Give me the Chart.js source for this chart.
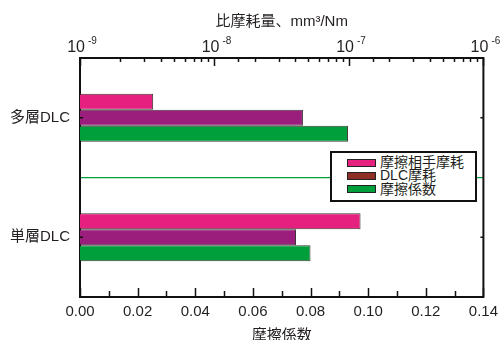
<!DOCTYPE html>
<html>
<head>
<meta charset="utf-8">
<script src="https://cdn.jsdelivr.net/npm/chart.js@4.4.1/dist/chart.umd.min.js"></script>
<style>
  body { margin: 0; background: #fff; }
  .wrap { position: relative; width: 504px; height: 340px; }
  .legend {
    position: absolute; left: 330px; top: 151px; width: 147px; height: 51px;
    box-sizing: border-box; border: 2px solid #111; background: #fff;
    padding: 3px 0 0 15px; color: #231f20;
    font: 14px/13.3px "Liberation Sans", "Noto Sans CJK JP", sans-serif;
  }
  .row { display: flex; align-items: center; height: 13.3px; line-height: 13.3px; white-space: nowrap; }
  .row span { line-height: 13.3px; }
  .sw { display: block; width: 29px; height: 8px; box-sizing: border-box; border: 1px solid #222; margin-right: 4px; flex: none; }
</style>
</head>
<body>
<div class="wrap">
  <canvas id="chart" width="504" height="340"></canvas>
  <div class="legend" id="legend"></div>
</div>
<script>
const categories = ['多層DLC', '単層DLC'];
const partnerWear = [3.5e-9, 1.22e-7];   // 比摩耗量 mm3/Nm (top, log)
const dlcWear = [4.55e-8, 4.04e-8];      // 比摩耗量 mm3/Nm (top, log)
const frictionCoef = [0.093, 0.080];     // 摩擦係数 (bottom)
const wearTicks = [1e-9, 1e-8, 1e-7, 1e-6];
const seriesNames = ['摩擦相手摩耗', 'DLC摩耗', '摩擦係数'];

const FONT = '"Liberation Sans", "Noto Sans CJK JP", sans-serif';
const TEXT = '#231f20';
const PINK = '#e6207e';
const PURPLE = '#9b1e7d';
const GREEN = '#009f3c';
const BROWN = '#8e2f23';
const legendColors = [PINK, BROWN, GREEN];

// legend box (swatch for DLC摩耗 is brown in the original)
const legendEl = document.getElementById('legend');
seriesNames.forEach((name, i) => {
  const row = document.createElement('div');
  row.className = 'row';
  row.innerHTML = '<span class="sw" style="background:' + legendColors[i] + '"></span><span>' + name + '</span>';
  legendEl.appendChild(row);
});

const isMajor = v => Math.abs(v / Math.pow(10, Math.round(Math.log10(v))) - 1) < 1e-6;
const baseFont = Chart.helpers.toFont({ family: FONT, size: 16 }).string;
const expFont = Chart.helpers.toFont({ family: FONT, size: 10 }).string;

const axisMarks = {
  id: 'axisMarks',
  afterDraw(chart) {
    const { ctx, chartArea: a, scales } = chart;
    const line = (x1, y1, x2, y2) => {
      ctx.beginPath(); ctx.moveTo(x1, y1); ctx.lineTo(x2, y2); ctx.stroke();
    };
    ctx.save();
    ctx.strokeStyle = '#111';
    ctx.lineWidth = 2;
    line(a.right, a.top - 1, a.right, a.bottom + 1);

    ctx.lineWidth = 1.5;
    const xb = scales.x;
    xb.ticks.forEach((t, i) => {
      const px = Math.round(xb.getPixelForValue(t.value)) + 0.5;
      line(px, a.bottom, px, a.bottom - (i % 2 === 0 ? 9 : 6));
    });
    const xt = scales.xTop;
    xt.ticks.forEach(t => {
      const px = Math.round(xt.getPixelForValue(t.value)) + 0.5;
      line(px, a.top, px, a.top + (isMajor(t.value) ? 8 : 4));
    });
    const y = scales.y;
    categories.forEach((c, i) => {
      const py = y.getPixelForValue(i);
      line(a.left, py, a.left + 3, py);
      line(a.right, py, a.right - 3, py);
    });

    ctx.fillStyle = TEXT;
    ctx.textBaseline = 'alphabetic';
    wearTicks.forEach(v => {
      const px = xt.getPixelForValue(v);
      ctx.font = baseFont;
      ctx.textAlign = 'right';
      ctx.fillText('10', px + 5, 52);
      ctx.font = expFont;
      ctx.textAlign = 'left';
      ctx.fillText(String(Math.round(Math.log10(v))), px + 8, 44);
    });
    ctx.restore();
  }
};

new Chart(document.getElementById('chart'), {
  type: 'bar',
  data: {
    labels: categories,
    datasets: [
      { label: seriesNames[0], data: partnerWear, xAxisID: 'xTop', backgroundColor: PINK },
      { label: seriesNames[1], data: dlcWear, xAxisID: 'xTop', backgroundColor: PURPLE },
      { label: seriesNames[2], data: frictionCoef, xAxisID: 'x', backgroundColor: GREEN },
    ],
  },
  options: {
    indexAxis: 'y',
    responsive: false,
    devicePixelRatio: 1,
    animation: false,
    layout: { padding: { left: 0, right: 15, top: 0, bottom: 0 } },
    datasets: {
      bar: {
        categoryPercentage: 0.40,
        barPercentage: 1.0,
        borderWidth: 1,
        borderColor: 'rgba(30,20,20,0.85)',
      },
    },
    plugins: {
      legend: { display: false },
      tooltip: { enabled: false },
    },
    scales: {
      x: {
        type: 'linear',
        position: 'bottom',
        min: 0,
        max: 0.14,
        grid: { display: false, drawTicks: false },
        border: { display: true, color: '#111', width: 2 },
        ticks: {
          stepSize: 0.01,
          autoSkip: false,
          maxRotation: 0,
          padding: 6,
          color: TEXT,
          font: { family: FONT, size: 15 },
          callback: (v, i) => (i % 2 === 0 ? Number(v).toFixed(2) : ''),
        },
        title: {
          display: true,
          text: '摩擦係数',
          color: TEXT,
          font: { family: FONT, size: 15, lineHeight: 1 },
          padding: { top: 0, bottom: -3 },
        },
        afterFit: s => { s.height = 43; },
      },
      xTop: {
        type: 'logarithmic',
        position: 'top',
        min: 1e-9,
        max: 1e-6,
        grid: { display: false, drawTicks: false },
        border: { display: true, color: '#111', width: 2 },
        ticks: { display: false, autoSkip: false },
        title: {
          display: true,
          text: '比摩耗量、mm³/Nm',
          color: TEXT,
          font: { family: FONT, size: 15, lineHeight: 1 },
          padding: { top: 14, bottom: 0 },
        },
        afterFit: s => { s.height = 58; },
      },
      y: {
        type: 'category',
        offset: true,
        grid: {
          display: true,
          offset: true,
          drawTicks: false,
          lineWidth: 1.2,
          color: c => (c.index === 1 ? '#00a040' : 'rgba(0,0,0,0)'),
        },
        border: { display: true, color: '#111', width: 2 },
        ticks: {
          padding: 10,
          color: TEXT,
          font: { family: FONT, size: 15 },
        },
        afterFit: s => { s.width = 80; },
      },
    },
  },
  plugins: [axisMarks],
});
</script>
</body>
</html>
